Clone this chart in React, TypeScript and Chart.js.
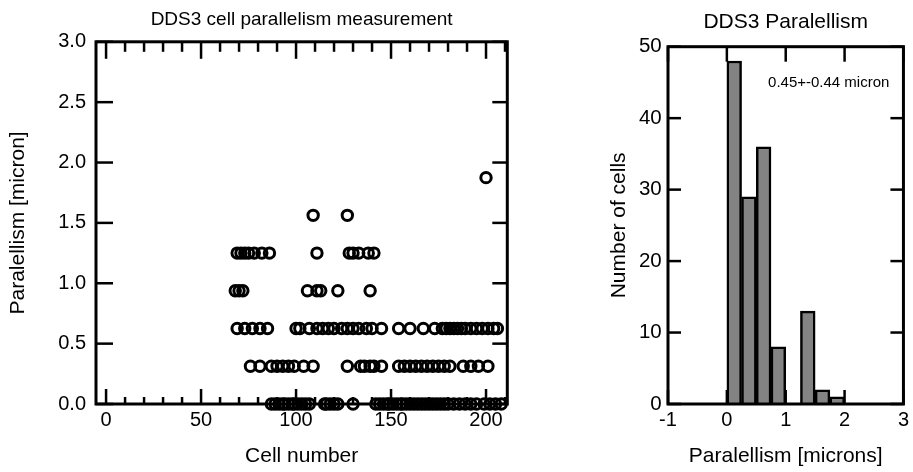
import React, { useEffect, useRef } from 'react';
import { Chart, registerables } from 'chart.js';

Chart.register(...registerables);

const FONT = "'Liberation Sans', Arial, Helvetica, sans-serif";

// ---------- Left panel: paralellism per cell ----------
const scatterTitle = 'DDS3 cell parallelism measurement';
const scatterXTitle = 'Cell number';
const scatterYTitle = 'Paralellism [micron]';
// measured paralellism levels (micron)
const levels = [0, 0.3125, 0.625, 0.9375, 1.25, 1.5625, 1.875];
// cell numbers measured at each level
const cellsLevel0 = [
  87, 89, 91, 93, 94, 96, 98, 99, 101, 103, 105, 107,
  115, 116, 118, 120, 122,
  130,
  142, 144, 146, 148, 149, 151, 153, 155, 156, 158, 160, 162, 164, 166, 168,
  170, 172, 174, 176, 178, 180, 183, 186, 189, 192, 195, 199, 202, 205, 208,
];
const cellsLevel1 = [
  76, 81, 87, 90, 93, 96, 99, 104, 109,
  127, 134, 136, 139, 141, 145,
  154, 157, 160, 163, 166, 169, 172, 175, 178, 181, 188, 192, 196, 201,
];
const cellsLevel2 = [
  69, 73, 77, 81, 85,
  100, 102, 107, 111, 114, 117, 120, 124, 127, 130, 133, 137, 140, 145,
  154, 160, 167, 173, 177, 179, 181, 183, 185, 187, 189, 192, 195, 198, 201, 204, 206,
];
const cellsLevel3 = [68, 70, 72, 106, 111, 113, 122, 139];
const cellsLevel4 = [69, 71, 73, 75, 78, 82, 86, 111, 128, 130, 133, 138, 141];
const cellsLevel5 = [109, 127];
const cellsLevel6 = [200];
const cellsByLevel = [cellsLevel0, cellsLevel1, cellsLevel2, cellsLevel3, cellsLevel4, cellsLevel5, cellsLevel6];

const scatterXMin = -5.3;
const scatterXMax = 211.2;
const scatterXMajor = [0, 50, 100, 150, 200];
const scatterXMinor = [10, 20, 30, 40, 60, 70, 80, 90, 110, 120, 130, 140, 160, 170, 180, 190, 210];
const scatterYMin = 0;
const scatterYMax = 3;

// ---------- Right panel: histogram ----------
const histTitle = 'DDS3 Paralellism';
const histXTitle = 'Paralellism [microns]';
const histYTitle = 'Number of cells';
const histBinCenters = [0.125, 0.375, 0.625, 0.875, 1.125, 1.375, 1.625, 1.875];
const histCounts = [48, 29, 36, 8, 0, 13, 2, 1];
const histAnnotation = '0.45+-0.44 micron';
const histAnnotationX = 0.7;
const histAnnotationY = 44.9;

const frameTicks = {
  id: 'frameTicks',
  afterDatasetsDraw(chart: any, _args: any, opts: any) {
    const { ctx, chartArea: a } = chart;
    const xs = chart.scales.x;
    const ys = chart.scales.y;
    ctx.save();
    ctx.strokeStyle = '#000';
    ctx.lineCap = 'butt';
    const line = (x1: number, y1: number, x2: number, y2: number) => {
      ctx.beginPath();
      ctx.moveTo(x1, y1);
      ctx.lineTo(x2, y2);
      ctx.stroke();
    };
    ctx.lineWidth = opts.tickWidth || 2.5;
    const drawX = (vals: number[], lenB: number, lenT: number) => {
      vals.forEach((v) => {
        const px = xs.getPixelForValue(v);
        if (px < a.left - 0.5 || px > a.right + 0.5) return;
        line(px, a.bottom, px, a.bottom - lenB);
        line(px, a.top, px, a.top + lenT);
      });
    };
    const drawY = (vals: number[], lenL: number, lenR: number) => {
      vals.forEach((v) => {
        const py = ys.getPixelForValue(v);
        if (py < a.top - 0.5 || py > a.bottom + 0.5) return;
        line(a.left, py, a.left + lenL, py);
        line(a.right, py, a.right - lenR, py);
      });
    };
    const xMajor = xs.ticks.map((t: any) => t.value);
    const yMajor = ys.ticks.map((t: any) => t.value);
    drawX(xMajor, opts.xLenB, opts.xLenT);
    if (opts.xMinor) drawX(opts.xMinor, opts.xMinorLenB, opts.xMinorLenT);
    drawY(yMajor, opts.yLenL, opts.yLenR);
    ctx.lineWidth = opts.frameWidth || 3;
    ctx.strokeRect(a.left, a.top, a.right - a.left, a.bottom - a.top);
    if (opts.annotation) {
      ctx.fillStyle = '#000';
      ctx.font = `15px ${FONT}`;
      ctx.textAlign = 'left';
      ctx.textBaseline = 'middle';
      ctx.fillText(opts.annotation.text, xs.getPixelForValue(opts.annotation.x), ys.getPixelForValue(opts.annotation.y));
    }
    ctx.restore();
  },
};

const font = (size: number) => ({ family: FONT, size, weight: 'normal' as const, lineHeight: 1.2 });

export default function App() {
  const leftRef = useRef<HTMLCanvasElement>(null);
  const rightRef = useRef<HTMLCanvasElement>(null);

  useEffect(() => {
    const points: { x: number; y: number }[] = [];
    levels.forEach((lv, i) => cellsByLevel[i].forEach((c) => points.push({ x: c, y: lv })));

    const left = new Chart(leftRef.current!, {
      type: 'scatter',
      data: {
        datasets: [
          {
            data: points,
            pointStyle: 'circle',
            pointRadius: 5.2,
            pointBorderWidth: 3,
            pointBorderColor: '#000',
            pointBackgroundColor: 'rgba(0,0,0,0)',
            clip: false as any,
          },
        ],
      },
      options: {
        responsive: false,
        animation: false,
        events: [],
        layout: { padding: { left: 0, right: 520 - 507.3, top: 0, bottom: 0 } },
        plugins: {
          legend: { display: false },
          tooltip: { enabled: false },
          title: {
            display: true,
            text: scatterTitle,
            color: '#000',
            font: font(19),
            padding: { top: 8, bottom: 11 },
            fullSize: false,
          },
          frameTicks: {
            xMinor: scatterXMinor,
            xLenB: 15,
            xLenT: 17,
            xMinorLenB: 7,
            xMinorLenT: 10,
            yLenL: 17,
            yLenR: 15,
            tickWidth: 2.5,
            frameWidth: 3,
          },
        } as any,
        scales: {
          x: {
            type: 'linear',
            min: scatterXMin,
            max: scatterXMax,
            afterBuildTicks: (s: any) => {
              s.ticks = scatterXMajor.map((v) => ({ value: v }));
            },
            ticks: { color: '#000', font: font(20), padding: 4, maxRotation: 0, includeBounds: false },
            grid: { display: false, drawTicks: false },
            border: { display: false },
            title: { display: true, text: scatterXTitle, color: '#000', font: font(21), padding: { top: 0, bottom: 3.4 } },
            afterFit: (s: any) => {
              s.height = 68;
            },
          },
          y: {
            type: 'linear',
            min: scatterYMin,
            max: scatterYMax,
            ticks: {
              color: '#000',
              font: font(20),
              padding: 10,
              stepSize: 0.5,
              includeBounds: false,
              callback: (v: any) => Number(v).toFixed(1),
            },
            grid: { display: false, drawTicks: false },
            border: { display: false },
            title: { display: true, text: scatterYTitle, color: '#000', font: font(21), padding: { top: 5.4, bottom: 0 } },
            afterFit: (s: any) => {
              s.width = 96;
            },
          },
        },
      },
      plugins: [frameTicks],
    });

    const right = new Chart(rightRef.current!, {
      type: 'bar',
      data: {
        datasets: [
          {
            data: histBinCenters.map((x, i) => ({ x, y: histCounts[i] })),
            backgroundColor: '#838383',
            borderColor: '#000',
            borderWidth: 2.5,
            borderSkipped: 'start',
            barPercentage: 1,
            categoryPercentage: 1,
          },
        ],
      },
      options: {
        responsive: false,
        animation: false,
        events: [],
        layout: { padding: { left: 0, right: 313 - 306.7, top: 0, bottom: 0 } },
        plugins: {
          legend: { display: false },
          tooltip: { enabled: false },
          title: {
            display: true,
            text: histTitle,
            color: '#000',
            font: font(21),
            padding: { top: 9.4, bottom: 12.1 },
            fullSize: false,
          },
          frameTicks: {
            xLenB: 14,
            xLenT: 15,
            yLenL: 13,
            yLenR: 13,
            tickWidth: 2.5,
            frameWidth: 3,
            annotation: { text: histAnnotation, x: histAnnotationX, y: histAnnotationY },
          },
        } as any,
        scales: {
          x: {
            type: 'linear',
            min: -1,
            max: 3,
            offset: false,
            ticks: { color: '#000', font: font(20), padding: 4, stepSize: 1, maxRotation: 0, includeBounds: false },
            grid: { display: false, drawTicks: false },
            border: { display: false },
            title: { display: true, text: histXTitle, color: '#000', font: font(21), padding: { top: 0, bottom: 2.7 } },
            afterFit: (s: any) => {
              s.height = 68;
            },
          },
          y: {
            type: 'linear',
            min: 0,
            max: 50,
            ticks: { color: '#000', font: font(20.5), padding: 6.3, stepSize: 10, includeBounds: false },
            grid: { display: false, drawTicks: false },
            border: { display: false },
            title: { display: true, text: histYTitle, color: '#000', font: font(21), padding: { top: 6.4, bottom: 0 } },
            afterFit: (s: any) => {
              s.width = 68;
            },
          },
        },
      },
      plugins: [frameTicks],
    });

    return () => {
      left.destroy();
      right.destroy();
    };
  }, []);

  return (
    <div style={{ position: 'fixed', left: 0, top: 0, width: 913, height: 472, background: '#fff', overflow: 'hidden' }}>
      <canvas ref={leftRef} width={520} height={472} style={{ position: 'absolute', left: 0, top: 0, width: 520, height: 472 }} />
      <canvas ref={rightRef} width={313} height={472} style={{ position: 'absolute', left: 600, top: 0, width: 313, height: 472 }} />
    </div>
  );
}
